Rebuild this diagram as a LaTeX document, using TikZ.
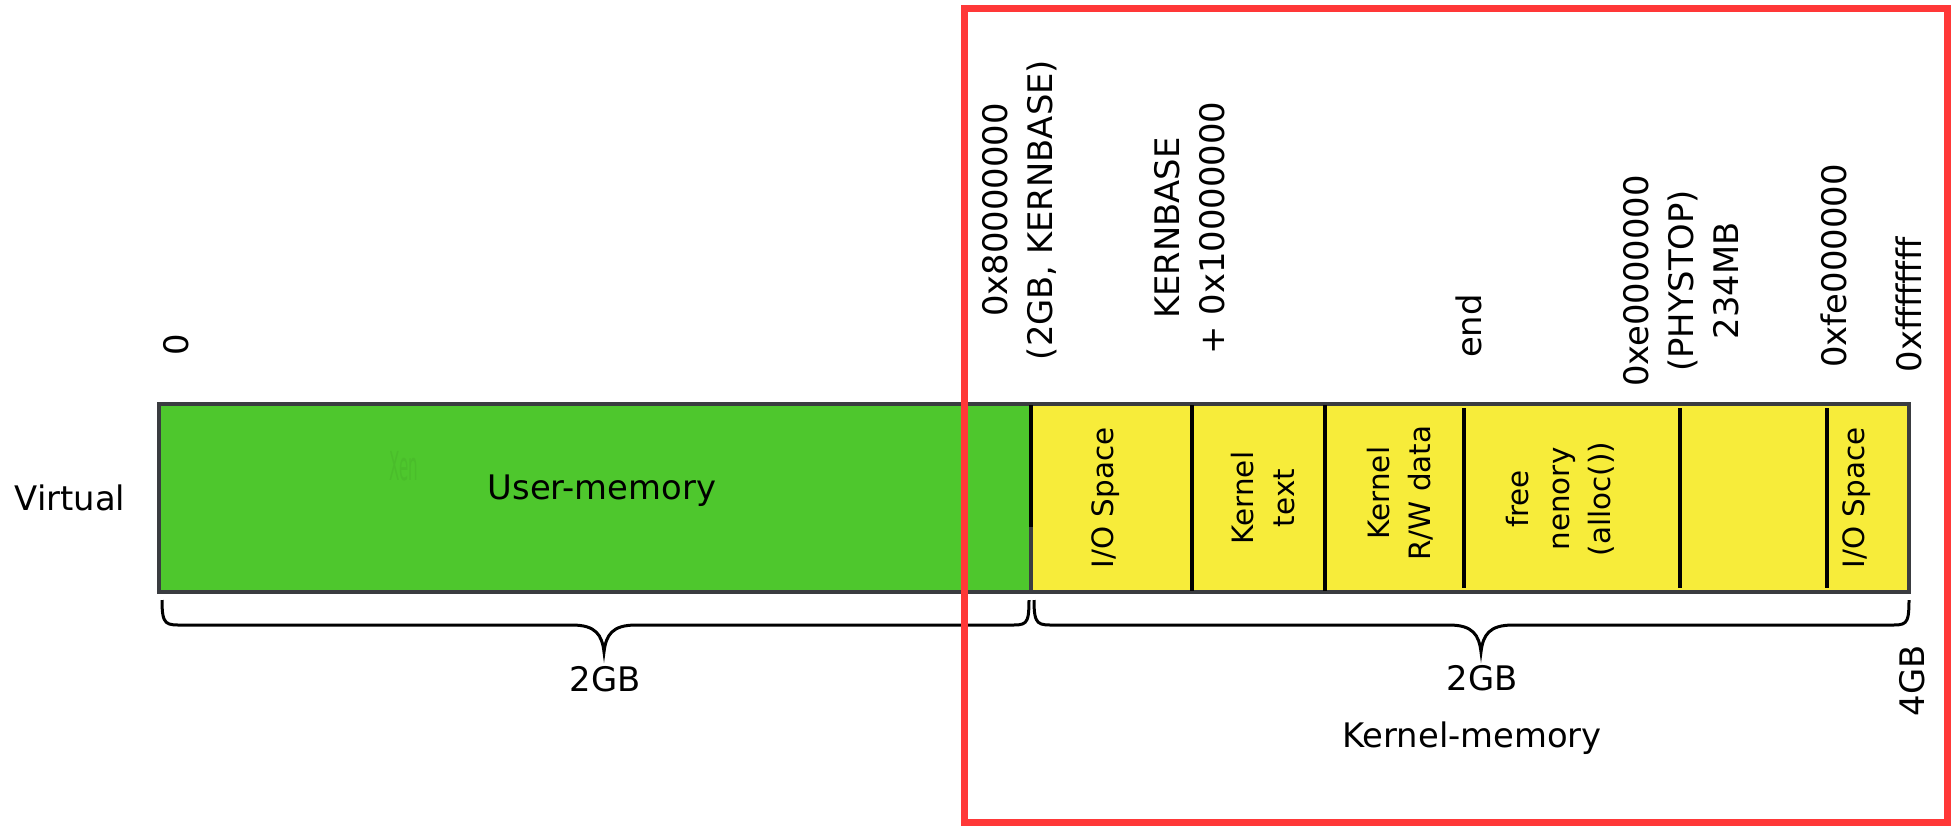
\documentclass[tikz,border=0pt]{standalone}
\usepackage{fontspec}
\setmainfont{DejaVu Sans}

\definecolor{usergreen}{RGB}{78,199,45}
\definecolor{kernyellow}{RGB}{247,236,58}
\definecolor{framered}{RGB}{255,56,56}
\definecolor{bargray}{RGB}{58,60,64}

\begin{document}
\begin{tikzpicture}[x=0.5pt, y=-0.5pt,
    lbl/.style={font=\fontsize{16.9}{22.5}\selectfont, align=center, inner sep=0pt},
    addr/.style={lbl, rotate=90},
    celltxt/.style={font=\fontsize{14.7}{20.5}\selectfont, align=center, inner sep=0pt, rotate=90},
    divider/.style={line width=1.8pt},
    brace/.style={line width=1.5pt}
]
    \useasboundingbox (0,0) rectangle (1960,826);

    % memory bar
    \fill[usergreen] (159,404) rectangle (1031,592);
    \fill[kernyellow] (1031,404) rectangle (1909,592);
    \draw[bargray, line width=1.6pt] (159,404) rectangle (1909,592);
    \draw[bargray, line width=1.8pt] (1031,404) -- (1031,592);
    \draw[divider] (1031,405) -- (1031,527);
    \foreach \x in {1192,1325} \draw[divider] (\x,405) -- (\x,591);
    \foreach \x in {1464,1680,1827} \draw[divider] (\x,408) -- (\x,588);

    \node[lbl] (virt) at (70,498) {Virtual};
    \node[lbl] (user) at (602,491) {User-memory};
    \node[inner sep=0pt, text=usergreen!95!black, font=\fontsize{19.9}{20}\selectfont] (xen) at (404,466) {\scalebox{0.38}[1]{Xen}};
    \node[celltxt] (io1) at (1106,498) {I/O Space};
    \node[celltxt] (ktext) at (1263,498) {Kernel\\text};
    \node[celltxt] (kdata) at (1400,493) {Kernel\\R/W data};
    \node[celltxt] (free) at (1560,499) {free\\nenory\\(alloc())};
    \node[celltxt] (io2) at (1857,498) {I/O Space};

    % addresses above the bar
    \node[addr] (a0) at (176,345) {0};
    \node[addr] (akb) at (1020,210) {0x80000000\\(2GB, KERNBASE)};
    \node[addr] (aktext) at (1190,228) {KERNBASE\\+ 0x10000000};
    \node[addr] (aend) at (1469,326) {end};
    \node[addr] (aphys) at (1681,281) {0xe0000000\\(PHYSTOP)\\234MB};
    \node[addr] (adev) at (1834,266) {0xfe000000};
    \node[addr] (atop) at (1909,305) {0xffffffff};

    % braces below the bar
    \draw[brace] (162,600) .. controls (162,626) and (166,625) .. (184,625) -- (572,625)
        .. controls (596,625) and (602,635) .. (604,652)
        .. controls (606,635) and (612,625) .. (636,625) -- (1008,625)
        .. controls (1026,625) and (1029,626) .. (1029,600);
    \draw[brace] (1034,600) .. controls (1034,626) and (1038,625) .. (1056,625) -- (1449,625)
        .. controls (1473,625) and (1479,635) .. (1481,652)
        .. controls (1483,635) and (1489,625) .. (1513,625) -- (1888,625)
        .. controls (1906,625) and (1909,626) .. (1909,600);

    \node[lbl] (ugb) at (605,679) {2GB};
    \node[lbl] (kgb) at (1482,678) {2GB};
    \node[lbl] (kmem) at (1472,738) {Kernel-memory};
    \node[addr] (fourgb) at (1912,681) {4GB};

    % kernel part highlight
    \draw[framered, line width=3.5pt] (964,8) rectangle (1947,822);
\end{tikzpicture}
\end{document}
